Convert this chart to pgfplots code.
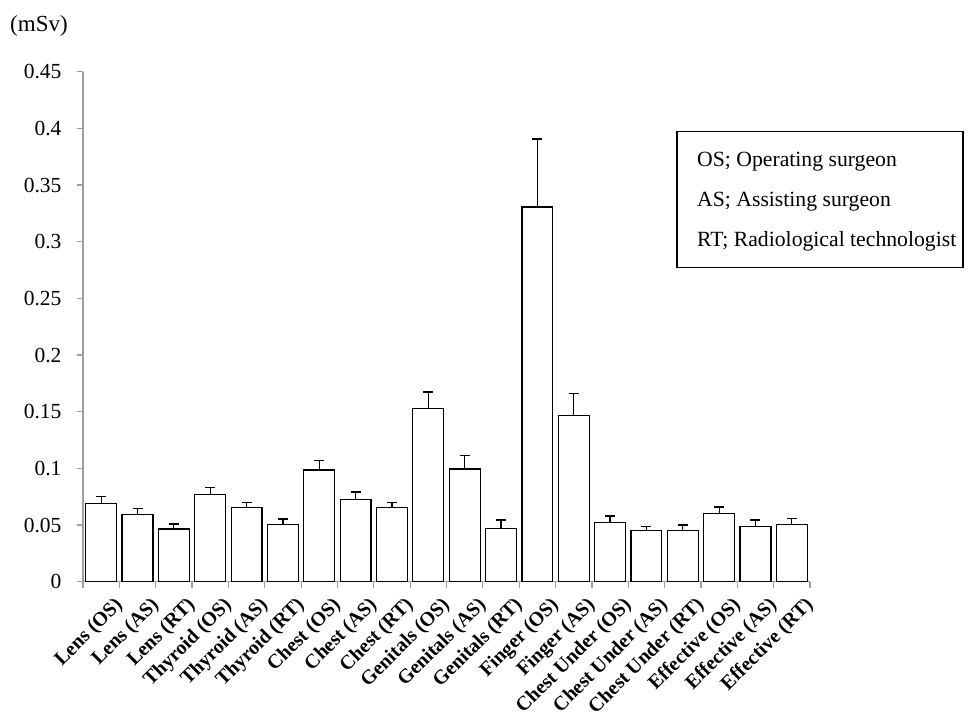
\documentclass[border=0pt]{standalone}
\usepackage{pgfplots}
\pgfplotsset{compat=1.18}
\usepackage{fontspec}
\setmainfont{Liberation Serif}
\pgfplotstableread{
x y e
0 0.0690 0.0062
1 0.0590 0.0053
2 0.0465 0.0044
3 0.0770 0.0062
4 0.0656 0.0044
5 0.0503 0.0050
6 0.0985 0.0085
7 0.0724 0.0067
8 0.0656 0.0044
9 0.1530 0.0144
10 0.0994 0.0116
11 0.0471 0.0073
12 0.3306 0.0600
13 0.1465 0.0195
14 0.0520 0.0060
15 0.0453 0.0037
16 0.0453 0.0047
17 0.0603 0.0056
18 0.0490 0.0054
19 0.0506 0.0050
}\dosedata
\begin{document}
\begin{tikzpicture}[x=1pt,y=1pt]
\path[use as bounding box] (0,0) rectangle (970,718);
\begin{axis}[
  at={(83pt,136.3pt)}, anchor=south west,
  scale only axis, width=727pt, height=510pt,
  xmin=-0.5, xmax=19.5, ymin=0, ymax=0.45,
  axis x line*=bottom, axis y line*=left,
  axis line style={draw=gray!75, line width=1.2pt, -},
  ytick={0,0.05,0.1,0.15,0.2,0.25,0.3,0.35,0.4,0.45},
  yticklabel style={font=\fontsize{21.5}{21.5}\selectfont, xshift=-12pt},
  /pgf/number format/fixed, /pgf/number format/precision=2,
  /pgf/number format/assume math mode=true,
  tick align=outside,
  major tick length=6pt,
  minor tick length=6pt,
  every tick/.style={draw=gray!75, line width=1.2pt},
  xtick={0,...,19},
  every major x tick/.style={draw=none},
  minor xtick={-0.5,0.5,...,19.5},
  xticklabels={Lens (OS),Lens (AS),Lens (RT),Thyroid (OS),Thyroid (AS),Thyroid (RT),Chest (OS),Chest (AS),Chest (RT),Genitals (OS),Genitals (AS),Genitals (RT),Finger (OS),Finger (AS),Chest Under (OS),Chest Under (AS),Chest Under (RT),Effective (OS),Effective (AS),Effective (RT)},
  xticklabel style={font=\bfseries\fontsize{20}{20}\selectfont, rotate=45, anchor=north east, inner sep=0pt, xshift=3pt, yshift=-14pt},
  clip=false,
]
\addplot[ybar, bar width=0.85, draw=black, fill=white, line width=1.2pt,
  error bars/.cd, y dir=plus, y explicit,
  error bar style={line width=1.2pt, black},
  error mark options={rotate=90, mark size=5pt, line width=1.2pt, black}]
  table[x=x, y=y, y error=e] {\dosedata};
\end{axis}
\node[anchor=base west, font=\fontsize{23}{23}\selectfont, inner sep=0pt] at (10,686.3) {(mSv)};
\draw[line width=1.2pt] (677,450.7) rectangle (963,586.3);
\node[anchor=base west, font=\fontsize{21.7}{21.7}\selectfont, inner sep=0pt] at (697,551.3) {OS; Operating surgeon};
\node[anchor=base west, font=\fontsize{21.7}{21.7}\selectfont, inner sep=0pt] at (697,511.3) {AS; Assisting surgeon};
\node[anchor=base west, font=\fontsize{21.7}{21.7}\selectfont, inner sep=0pt] at (697,471.3) {RT; Radiological technologist};
\end{tikzpicture}
\end{document}
